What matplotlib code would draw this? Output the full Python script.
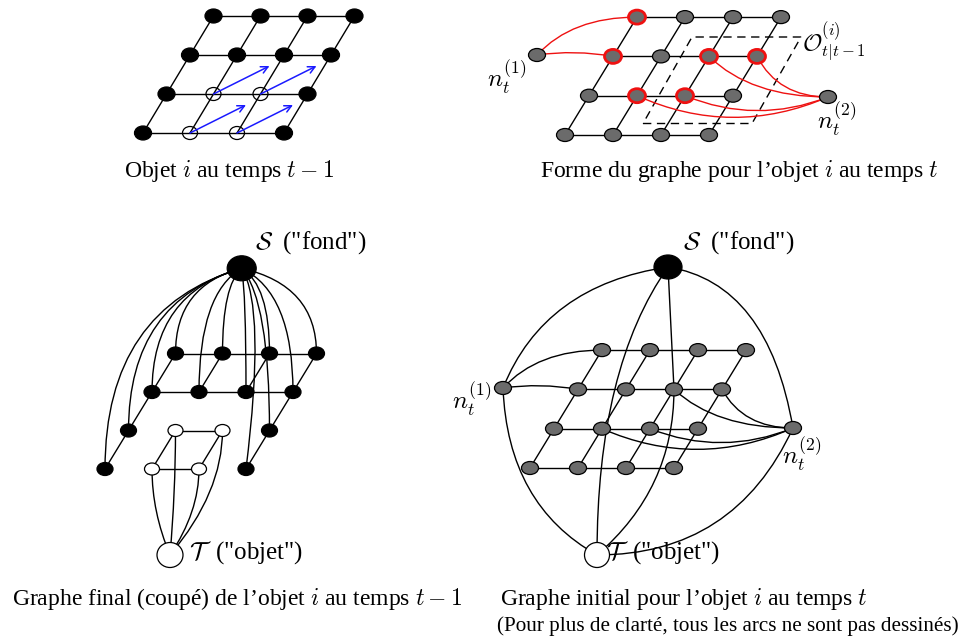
import numpy as np
import matplotlib
matplotlib.use('Agg')
import matplotlib.pyplot as plt
from matplotlib.patches import Ellipse, PathPatch, FancyArrowPatch, Polygon
from matplotlib.path import Path

plt.rcParams['font.family'] = 'Liberation Serif'
plt.rcParams['mathtext.fontset'] = 'cm'

# ------------------------------------------------------------
# grid layouts (pixel coords): origin, column step, row step
# ------------------------------------------------------------
grid_a = dict(origin=(143, 133), col=(47, 0), row=(23.5, -39))
grid_b = dict(origin=(565, 135), col=(48, 0), row=(24, -39.3))
grid_c = dict(origin=(105, 469), col=(47, 0), row=(23.5, -38.5))
grid_d = dict(origin=(530, 468), col=(48, 0), row=(24, -39.3))

# (row, col) with row 0 at the bottom
open_a = [(0, 1), (0, 2), (1, 1), (1, 2)]
arrow_shift = (56, -28)
red_b = [(3, 0), (2, 0), (2, 2), (2, 3), (1, 1), (1, 2)]
open_c = [(0, 1), (0, 2), (1, 1), (1, 2)]
# bend of the S -> node arcs in panel C (a, b, v); default for the rest
s_bend_default = (1.0, 0.2, 0.0)
s_bend_c = {(0, 3): (1.0, 0.2, -0.1)}

n1_b, n2_b = (537, 55), (828, 97)
n1_d, n2_d = (503, 388), (793, 428)
S_c, T_c = (241.7, 268.3), (170, 555)
S_d, T_d = (668, 267), (597, 555)
box_b = [(643, 123.5), (752, 123.5), (801, 37), (692, 37)]

# curved arcs: (node, a, b, v)
n1_links = [((3, 0), 0.35, 1.0, 0.0), ((2, 0), 0.5, 0.5, -0.08)]
n2_links = [((2, 2), 0.35, 1.0, 0.0), ((2, 3), 0.3, 1.0, 0.0),
            ((1, 1), 0.5, 0.5, 0.22), ((1, 2), 0.5, 0.5, 0.2)]

captions = [
    (229, 171, "Objet $i$ au temps $t-1$", 'center'),
    (739, 171, "Forme du graphe pour l\u2019objet $i$ au temps $t$", 'center'),
    (237, 599, "Graphe final (coup\u00e9) de l\u2019objet $i$ au temps $t-1$", 'center'),
    (500, 599, "Graphe initial pour l\u2019objet $i$ au temps $t$", 'left'),
]
note = "(Pour plus de clart\u00e9, tous les arcs ne sont pas dessin\u00e9s)"

GRAY = '#6b6b6b'
RED = '#ee1111'


def pos(g, r, c):
    ox, oy = g['origin']
    return np.array([ox + c * g['col'][0] + r * g['row'][0],
                     oy + c * g['col'][1] + r * g['row'][1]])


def curve(ax, p0, p1, a=0.5, b=0.5, v=0.0, **kw):
    p0, p1 = np.asarray(p0, float), np.asarray(p1, float)
    dx, dy = p1 - p0
    ctrl = (p0[0] + a * dx - v * dy, p0[1] + b * dy + v * dx)
    path = Path([p0, ctrl, p1], [Path.MOVETO, Path.CURVE3, Path.CURVE3])
    ax.add_patch(PathPatch(path, fill=False, lw=kw.get('lw', 1.0),
                           color=kw.get('color', 'k'), zorder=1))


def node(ax, p, w, h, fc, ec='k', lw=0.9, z=3):
    ax.add_patch(Ellipse(p, w, h, facecolor=fc, edgecolor=ec, lw=lw, zorder=z))


def grid_lines(ax, g, rows=range(4), cols=range(4), lw=1.0):
    for r in rows:
        ax.plot(*zip(pos(g, r, 0), pos(g, r, 3)), color='k', lw=lw, zorder=1)
    for c in cols:
        ax.plot(*zip(pos(g, 0, c), pos(g, 3, c)), color='k', lw=lw, zorder=1)


fig = plt.figure(figsize=(9.68, 6.39), dpi=100)
ax = fig.add_axes([0, 0, 1, 1])
ax.set_xlim(0, 968)
ax.set_ylim(639, 0)
ax.axis('off')

# ---------------- panel A ----------------
grid_lines(ax, grid_a)
for r in range(4):
    for c in range(4):
        p = pos(grid_a, r, c)
        if (r, c) in open_a:
            node(ax, p, 15, 13, 'none', z=2)
            ax.add_patch(FancyArrowPatch(p, p + np.array(arrow_shift),
                                         arrowstyle='->,head_length=5,head_width=2.5',
                                         color='#1a1aff', lw=1.1, zorder=4,
                                         shrinkA=0, shrinkB=0))
        else:
            node(ax, p, 17, 14, 'k')

# ---------------- panel B ----------------
grid_lines(ax, grid_b)
ax.add_patch(Polygon(box_b, closed=True, fill=False, ls=(0, (6, 4)), lw=1.0,
                     edgecolor='k', zorder=1))
for rc, a, b, v in n1_links:
    curve(ax, n1_b, pos(grid_b, *rc), a, b, v, color=RED)
for rc, a, b, v in n2_links:
    curve(ax, pos(grid_b, *rc), n2_b, a, b, v, color=RED)
for r in range(4):
    for c in range(4):
        if (r, c) in red_b:
            node(ax, pos(grid_b, r, c), 17, 14, GRAY, ec=RED, lw=2.0)
        else:
            node(ax, pos(grid_b, r, c), 17, 13, GRAY)
node(ax, n1_b, 17, 13, GRAY)
node(ax, n2_b, 17, 13, GRAY)
ax.text(507, 77, r'$n_t^{(1)}$', fontsize=18, ha='center', va='center')
ax.text(837, 119, r'$n_t^{(2)}$', fontsize=18, ha='center', va='center')
ax.text(802, 42, r'$\mathcal{O}_{t|t-1}^{(i)}$', fontsize=17, ha='left', va='center')

# ---------------- panel C ----------------
for r in (2, 3):
    ax.plot(*zip(pos(grid_c, r, 0), pos(grid_c, r, 3)), color='k', lw=1.0, zorder=1)
for r in (0, 1):
    ax.plot(*zip(pos(grid_c, r, 1), pos(grid_c, r, 2)), color='k', lw=1.0, zorder=1)
for c in (0, 3):
    ax.plot(*zip(pos(grid_c, 0, c), pos(grid_c, 3, c)), color='k', lw=1.0, zorder=1)
for c in (1, 2):
    ax.plot(*zip(pos(grid_c, 0, c), pos(grid_c, 1, c)), color='k', lw=1.0, zorder=1)
    ax.plot(*zip(pos(grid_c, 2, c), pos(grid_c, 3, c)), color='k', lw=1.0, zorder=1)
for r in range(4):
    for c in range(4):
        p = pos(grid_c, r, c)
        if (r, c) in open_c:
            curve(ax, p, T_c, 0.0, 0.5)
            node(ax, p, 15, 12, 'white')
        else:
            curve(ax, S_c, p, *s_bend_c.get((r, c), s_bend_default))
            node(ax, p, 16, 13, 'k')
node(ax, S_c, 29, 25, 'k', z=4)
node(ax, T_c, 26, 25, 'white', z=4)
ax.text(255, 243, r'$\mathcal{S}$  ("fond")', fontsize=18, ha='left', va='center')
ax.text(189, 553, r'$\mathcal{T}$  ("objet")', fontsize=18, ha='left', va='center')

# ---------------- panel D ----------------
grid_lines(ax, grid_d)
curve(ax, S_d, n1_d, 0.75, 0.15)
curve(ax, S_d, n2_d, 0.8, 0.1)
curve(ax, n1_d, T_d, 0.05, 0.7)
curve(ax, n2_d, T_d, 0.3, 1.0)
curve(ax, S_d, T_d, 1.0, 0.35)
curve(ax, S_d, pos(grid_d, 2, 2), 0.5, 0.5)
curve(ax, pos(grid_d, 2, 2), T_d, 0.0, 0.6)
for rc, a, b, v in n1_links:
    curve(ax, n1_d, pos(grid_d, *rc), a, b, v)
for rc, a, b, v in n2_links:
    curve(ax, pos(grid_d, *rc), n2_d, a, b, v)
for r in range(4):
    for c in range(4):
        node(ax, pos(grid_d, r, c), 17, 13, GRAY)
node(ax, n1_d, 17, 13, GRAY)
node(ax, n2_d, 17, 13, GRAY)
node(ax, S_d, 28, 24, 'k', z=4)
node(ax, T_d, 25, 25, 'white', z=4)
ax.text(683, 243, r'$\mathcal{S}$  ("fond")', fontsize=18, ha='left', va='center')
ax.text(606, 553, r'$\mathcal{T}$  ("objet")', fontsize=18, ha='left', va='center')
ax.text(472, 399, r'$n_t^{(1)}$', fontsize=18, ha='center', va='center')
ax.text(802, 454, r'$n_t^{(2)}$', fontsize=18, ha='center', va='center')

# ---------------- captions ----------------
for x, y, s, ha in captions:
    ax.text(x, y, s, fontsize=17, ha=ha, va='center')
ax.text(497, 626, note, fontsize=15.2, ha='left', va='center')

fig.savefig('out.png', dpi=100)
